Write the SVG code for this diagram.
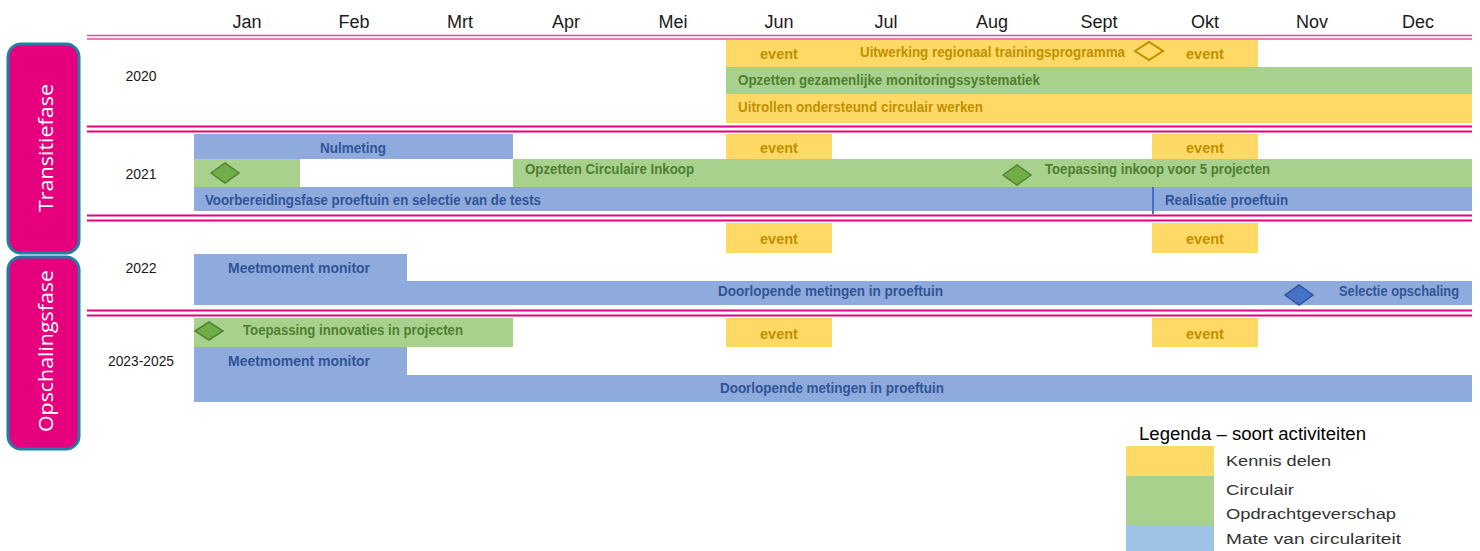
<svg xmlns="http://www.w3.org/2000/svg" width="1480" height="551" viewBox="0 0 1480 551">
<style>
.month{font-family:"Liberation Sans",Arial,sans-serif;font-size:18px;fill:#1a1a1a;text-anchor:middle}
.year{font-family:"Liberation Sans",Arial,sans-serif;font-size:14px;fill:#1a1a1a;text-anchor:middle}
.phase rect{fill:#e6007e;stroke:#1f7ea1;stroke-width:3}
.phase text{font-family:"Open Sans","Liberation Sans",sans-serif;font-size:20px;fill:#ffffff;text-anchor:middle}
.sep1{stroke:#ec4d9a;stroke-width:1.6}
.sep{stroke:#e6007e;stroke-width:2}
.y{fill:#ffd966}
.g{fill:#a9d18e}
.b{fill:#8faadc}
.lbl{font-family:"Liberation Sans",Arial,sans-serif;font-size:14.5px;font-weight:bold}
.ty{fill:#bf9000}
.tg{fill:#4f7f30}
.tb{fill:#2f5597}
.ev{text-anchor:middle}
.dg{fill:#70ad47;stroke:#548235;stroke-width:1.5}
.db{fill:#4472c4;stroke:#2f5597;stroke-width:1.5}
.dy{fill:none;stroke:#bf9000;stroke-width:2}
.leg{font-family:"Liberation Sans",Arial,sans-serif;font-size:15.5px;fill:#333333}
</style>

<g id="months">
<text class="month" x="247" y="28">Jan</text>
<text class="month" x="354" y="28">Feb</text>
<text class="month" x="460" y="28">Mrt</text>
<text class="month" x="566" y="28">Apr</text>
<text class="month" x="673" y="28">Mei</text>
<text class="month" x="779" y="28">Jun</text>
<text class="month" x="886" y="28">Jul</text>
<text class="month" x="992" y="28">Aug</text>
<text class="month" x="1099" y="28">Sept</text>
<text class="month" x="1205" y="28">Okt</text>
<text class="month" x="1312" y="28">Nov</text>
<text class="month" x="1418" y="28">Dec</text>
</g>

<g id="phase-transitie" class="phase">
<rect x="8" y="44" width="71" height="209" rx="13"/>
<text transform="translate(53,148) rotate(-90)" textLength="128" lengthAdjust="spacingAndGlyphs">Transitiefase</text>
</g>
<g id="phase-opschaling" class="phase">
<rect x="8" y="257" width="71" height="192" rx="13"/>
<text transform="translate(53,351) rotate(-90)" textLength="162" lengthAdjust="spacingAndGlyphs">Opschalingsfase</text>
</g>

<g id="years">
<text class="year" x="141" y="81">2020</text>
<text class="year" x="141" y="179">2021</text>
<text class="year" x="141" y="273">2022</text>
<text class="year" x="141" y="366" textLength="66" lengthAdjust="spacingAndGlyphs">2023-2025</text>
</g>

<g id="separators">
<line class="sep1" x1="87" y1="35.5" x2="1472" y2="35.5"/>
<line class="sep1" x1="87" y1="39" x2="1472" y2="39"/>
<line class="sep" x1="87" y1="126.5" x2="1472" y2="126.5"/>
<line class="sep" x1="87" y1="131.5" x2="1472" y2="131.5"/>
<line class="sep" x1="87" y1="215.5" x2="1472" y2="215.5"/>
<line class="sep" x1="87" y1="220.5" x2="1472" y2="220.5"/>
<line class="sep" x1="87" y1="310.5" x2="1472" y2="310.5"/>
<line class="sep" x1="87" y1="315.5" x2="1472" y2="315.5"/>
</g>

<g id="row-2020">
<rect class="y" x="726" y="40" width="532" height="27"/>
<rect class="g" x="726" y="67" width="746" height="27"/>
<rect class="y" x="726" y="94" width="746" height="29"/>
<text class="lbl ty ev" x="779" y="59">event</text>
<text class="lbl ty" x="860" y="57" textLength="265" lengthAdjust="spacingAndGlyphs">Uitwerking regionaal trainingsprogramma</text>
<polygon class="dy" points="1135,51 1149,42 1163,51 1149,60"/>
<text class="lbl ty ev" x="1205" y="59">event</text>
<text class="lbl tg" x="738" y="85" textLength="302" lengthAdjust="spacingAndGlyphs">Opzetten gezamenlijke monitoringssystematiek</text>
<text class="lbl ty" x="738" y="112" textLength="245" lengthAdjust="spacingAndGlyphs">Uitrollen ondersteund circulair werken</text>
</g>

<g id="row-2021">
<rect class="b" x="194" y="134" width="319" height="25"/>
<rect class="y" x="726" y="134" width="106" height="25"/>
<rect class="y" x="1152" y="134" width="106" height="25"/>
<rect class="g" x="194" y="159" width="106" height="28"/>
<rect class="g" x="513" y="159" width="959" height="28"/>
<rect class="b" x="194" y="187" width="1278" height="24"/>
<line x1="1153" y1="187" x2="1153" y2="214" stroke="#4472c4" stroke-width="2"/>
<text class="lbl tb" x="320" y="153" textLength="66" lengthAdjust="spacingAndGlyphs">Nulmeting</text>
<text class="lbl ty ev" x="779" y="153">event</text>
<text class="lbl ty ev" x="1205" y="153">event</text>
<polygon class="dg" points="211,173 225,163 239,173 225,183"/>
<text class="lbl tg" x="525" y="174" textLength="169" lengthAdjust="spacingAndGlyphs">Opzetten Circulaire Inkoop</text>
<polygon class="dg" points="1003,175 1017,165 1031,175 1017,185"/>
<text class="lbl tg" x="1045" y="174" textLength="225" lengthAdjust="spacingAndGlyphs">Toepassing inkoop voor 5 projecten</text>
<text class="lbl tb" x="205" y="205" textLength="336" lengthAdjust="spacingAndGlyphs">Voorbereidingsfase proeftuin en selectie van de tests</text>
<text class="lbl tb" x="1165" y="205" textLength="123" lengthAdjust="spacingAndGlyphs">Realisatie proeftuin</text>
</g>

<g id="row-2022">
<rect class="y" x="726" y="223" width="106" height="30"/>
<rect class="y" x="1152" y="223" width="106" height="30"/>
<rect class="b" x="194" y="254" width="213" height="28"/>
<rect class="b" x="194" y="281" width="1278" height="24"/>
<text class="lbl ty ev" x="779" y="244">event</text>
<text class="lbl ty ev" x="1205" y="244">event</text>
<text class="lbl tb" x="228" y="273" textLength="142" lengthAdjust="spacingAndGlyphs">Meetmoment monitor</text>
<text class="lbl tb" x="718" y="296" textLength="225" lengthAdjust="spacingAndGlyphs">Doorlopende metingen in proeftuin</text>
<polygon class="db" points="1285,295 1299,285 1313,295 1299,305"/>
<text class="lbl tb" x="1339" y="296" textLength="120" lengthAdjust="spacingAndGlyphs">Selectie opschaling</text>
</g>

<g id="row-2023">
<rect class="g" x="194" y="318" width="319" height="29"/>
<rect class="y" x="726" y="318" width="106" height="29"/>
<rect class="y" x="1152" y="318" width="106" height="29"/>
<rect class="b" x="194" y="347" width="213" height="29"/>
<rect class="b" x="194" y="375" width="1278" height="27"/>
<polygon class="dg" points="195,331 209,322 223,331 209,340"/>
<text class="lbl tg" x="243" y="335" textLength="220" lengthAdjust="spacingAndGlyphs">Toepassing innovaties in projecten</text>
<text class="lbl ty ev" x="779" y="339">event</text>
<text class="lbl ty ev" x="1205" y="339">event</text>
<text class="lbl tb" x="228" y="366" textLength="142" lengthAdjust="spacingAndGlyphs">Meetmoment monitor</text>
<text class="lbl tb" x="720" y="393" textLength="224" lengthAdjust="spacingAndGlyphs">Doorlopende metingen in proeftuin</text>
</g>

<g id="legend">
<text x="1139" y="440" font-family="Liberation Sans, Arial, sans-serif" font-size="17.5" fill="#000000" textLength="227" lengthAdjust="spacingAndGlyphs">Legenda – soort activiteiten</text>
<rect x="1126" y="446" width="88" height="30" fill="#ffd966"/>
<rect x="1126" y="476" width="88" height="49" fill="#a9d18e"/>
<rect x="1126" y="525" width="88" height="26" fill="#9dc3e6"/>
<text class="leg" x="1226" y="466" textLength="105" lengthAdjust="spacingAndGlyphs">Kennis delen</text>
<text class="leg" x="1226" y="495" textLength="68" lengthAdjust="spacingAndGlyphs">Circulair</text>
<text class="leg" x="1226" y="519" textLength="170" lengthAdjust="spacingAndGlyphs">Opdrachtgeverschap</text>
<text class="leg" x="1226" y="544" textLength="175" lengthAdjust="spacingAndGlyphs">Mate van circulariteit</text>
</g>
</svg>
